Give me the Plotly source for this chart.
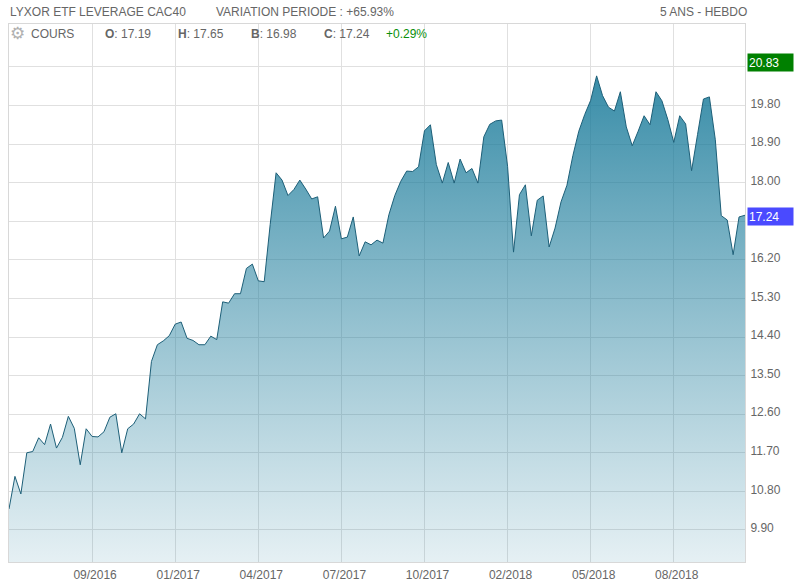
import plotly.graph_objects as go

# Weekly closing values
values = [
    10.39, 11.15, 10.74, 11.70, 11.73, 12.05, 11.89, 12.37, 11.81, 12.06,
    12.55, 12.27, 11.42, 12.26, 12.08, 12.07, 12.19, 12.53, 12.61, 11.70,
    12.26, 12.37, 12.61, 12.49, 13.83, 14.22, 14.31, 14.43, 14.70, 14.75,
    14.37, 14.32, 14.22, 14.22, 14.42, 14.34, 15.22, 15.19, 15.41, 15.41,
    16.00, 16.10, 15.71, 15.69, 17.02, 18.23, 18.06, 17.70, 17.84, 18.06,
    17.85, 17.62, 17.67, 16.71, 16.87, 17.45, 16.69, 16.73, 17.20, 16.29,
    16.62, 16.55, 16.66, 16.59, 17.25, 17.70, 18.03, 18.27, 18.26, 18.37,
    19.21, 19.35, 18.42, 17.99, 18.47, 17.99, 18.55, 18.23, 18.33, 17.99,
    19.07, 19.36, 19.44, 19.46, 18.38, 16.38, 17.72, 17.95, 16.76, 17.59,
    17.69, 16.50, 16.94, 17.55, 17.94, 18.63, 19.20, 19.59, 19.92, 20.49,
    20.03, 19.76, 19.67, 20.12, 19.30, 18.86, 19.20, 19.56, 19.35, 20.12,
    19.91, 19.47, 18.94, 19.56, 19.37, 18.28, 19.12, 19.95, 20.00, 19.00,
    17.23, 17.13, 16.32, 17.20, 17.24,
]
weeks = list(range(len(values)))

x_tick_weeks = [14, 28, 42, 56, 70, 84, 98, 112]
x_tick_labels = ["09/2016", "01/2017", "04/2017", "07/2017",
                 "10/2017", "02/2018", "05/2018", "08/2018"]
y_tick_values = [9.9, 10.8, 11.7, 12.6, 13.5, 14.4, 15.3, 16.2, 17.1, 18.0, 18.9, 19.8, 20.7]
y_tick_labels = ["9.90", "10.80", "11.70", "12.60", "13.50", "14.40", "15.30",
                 "16.20", "", "18.00", "18.90", "19.80", ""]

title_left = "LYXOR ETF LEVERAGE CAC40"
title_var = "VARIATION PERIODE : +65.93%"
title_right = "5 ANS - HEBDO"
series_name = "COURS"
ohlc = [("O", "17.19", 105), ("H", "17.65", 178), ("B", "16.98", 251), ("C", "17.24", 324)]
change = "+0.29%"
high_value = 20.83
last_value = 17.24

W, H = 801, 586
L, R, T, B = 8.5, 745.5, 24.3, 562.3
GREY = "#666666"
FONT = "Liberation Sans, Arial, sans-serif"


def px(x):
    return (x - L) / (R - L)


def py(y):
    return (B - y) / (B - T)


fig = go.Figure(go.Scatter(
    x=weeks, y=values, mode="lines", fill="tozeroy",
    line=dict(color="#1d5f78", width=1),
    fillgradient=dict(
        type="vertical", start=20.6, stop=9.15,
        colorscale=[[0, "rgba(20,120,152,0.85)"], [1, "rgba(40,130,160,0.12)"]],
    ),
    hoverinfo="skip",
))


def text(x, y, s, color=GREY, anchor="left", size=12):
    fig.add_annotation(x=px(x), y=py(y), xref="paper", yref="paper", text=s, showarrow=False,
                       xanchor=anchor, yanchor="middle", align=anchor, borderpad=0, borderwidth=0,
                       font=dict(color=color, size=size, family=FONT))


text(10, 12.5, title_left)
text(216, 12.5, title_var)
text(748, 12.5, title_right, anchor="right")
text(10, 33.5, "⚙", color="#b0b0b0", size=17)
text(31, 34.5, series_name)
for letter, val, xpos in ohlc:
    text(xpos, 34.5, f"<b>{letter}</b>: {val}")
text(386, 34.5, change, color="#0a8f0a")

for val, bg in [(high_value, "#008000"), (last_value, "#4a4aff")]:
    fig.add_annotation(x=px(771), xref="paper", y=val, yref="y", yshift=-1.5, text=f"{val:.2f}", showarrow=False,
                       xanchor="center", yanchor="middle", width=43, height=15, bgcolor=bg,
                       align="left", borderpad=1,
                       font=dict(color="white", size=12, family=FONT))

fig.update_layout(
    width=W, height=H, autosize=False, showlegend=False,
    margin=dict(l=L, r=W - R, t=T, b=H - B, pad=0),
    paper_bgcolor="white", plot_bgcolor="white",
    font=dict(family=FONT, size=12, color=GREY),
    xaxis=dict(range=[0, 124], tickmode="array", tickvals=x_tick_weeks, ticktext=x_tick_labels,
               automargin=False,
               showgrid=True, gridcolor="#e0e0e0", gridwidth=1, zeroline=False,
               showline=True, linecolor="#d8d8d8", linewidth=1, mirror=True,
               ticks="", ticklabelshift=3, ticklabelstandoff=2),
    yaxis=dict(range=[9.153, 21.70], tickmode="array", tickvals=y_tick_values, ticktext=y_tick_labels,
               automargin=False,
               side="right", showgrid=True, gridcolor="#e0e0e0", gridwidth=1, zeroline=False,
               showline=True, linecolor="#d8d8d8", linewidth=1, mirror=True,
               ticks="", ticklabelshift=-2, ticklabelstandoff=2),
)

fig.write_html("out.html", config={"displayModeBar": False},
               post_script="document.body.style.margin='0';document.body.style.overflow='hidden';")
